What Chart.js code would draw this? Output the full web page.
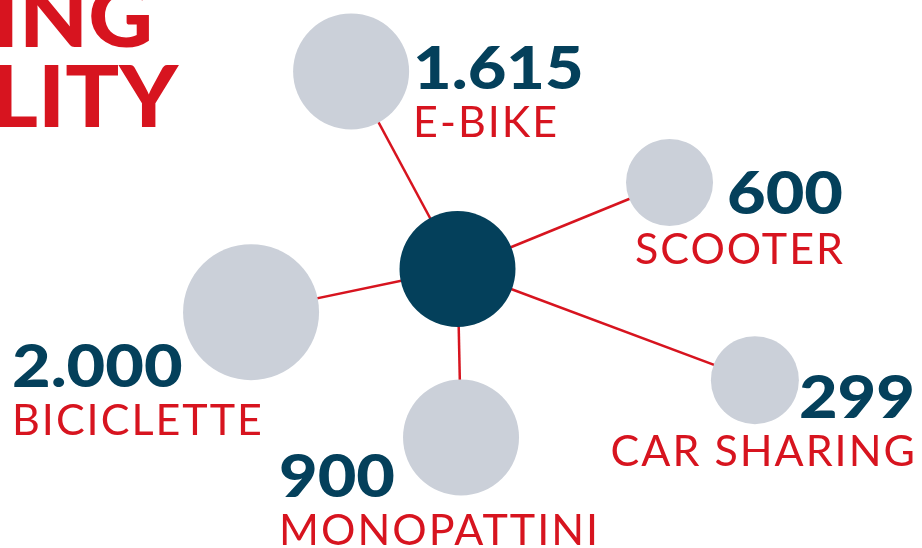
<!DOCTYPE html>
<html>
<head>
<meta charset="utf-8">
<script src="https://cdn.jsdelivr.net/npm/chart.js@4/dist/chart.umd.min.js"></script>
<style>
  html, body { margin: 0; padding: 0; background: #fff; }
  #wrap { width: 922px; height: 548px; }
</style>
</head>
<body>
<div id="wrap"><canvas id="hubChart" width="922" height="548"></canvas></div>
<script>
// data
const categories = ['E-BIKE', 'SCOOTER', 'CAR SHARING', 'MONOPATTINI', 'BICICLETTE'];
const values = [1615, 600, 299, 900, 2000];
const titleLines = ['SHARING', 'MOBILITY'];

// layout of the diagram (angle in degrees, distance from hub in px)
const nodeAngle = [118.3, 22.2, 339.5, 271.2, 191.8];
const nodeDist = [224.4, 229, 317.5, 168.5, 210.9];
const nodeRadius = [58, 43.5, 44, 58, 68];
const hubRadius = 58;
// label anchor relative to bubble centre: [dx, valueBaseline, nameBaseline, align]
const labelPos = [
  [62, 17.5, 65.5, 'left'],
  [173.5, 31.5, 81.5, 'right'],
  [160, 38, 86, 'right'],
  [-182, 59.5, 107.5, 'left'],
  [-239, 75, 123, 'left']
];

const RED = '#d7141f';
const NAVY = '#04405b';
const GREY = '#cbd0d9';

function fmt(v) {
  return String(v).replace(/\B(?=(\d{3})+(?!\d))/g, '.');
}

const points = categories.map((c, i) => {
  const a = nodeAngle[i] * Math.PI / 180;
  return { x: Math.cos(a) * nodeDist[i], y: Math.sin(a) * nodeDist[i], r: nodeRadius[i] };
});

const spokes = points.map(p => ({
  type: 'scatter',
  data: [{ x: 0, y: 0 }, { x: p.x, y: p.y }],
  showLine: true,
  borderColor: RED,
  borderWidth: 2.5,
  pointRadius: 0,
  order: 3
}));

// draws a text stretched horizontally, keeping the anchor
function drawWide(ctx, text, x, y, align, sx) {
  ctx.save();
  ctx.translate(x, y);
  ctx.scale(sx, 1);
  ctx.textAlign = align;
  ctx.fillText(text, 0, 0);
  ctx.restore();
}

const labelPlugin = {
  id: 'labels',
  afterDatasetsDraw(chart) {
    const ctx = chart.ctx;
    const meta = chart.getDatasetMeta(spokes.length);
    ctx.save();
    ctx.textBaseline = 'alphabetic';
    meta.data.forEach((el, i) => {
      const lp = labelPos[i];
      ctx.fillStyle = NAVY;
      ctx.font = '900 59px Lato';
      ctx.letterSpacing = '0px';
      drawWide(ctx, fmt(values[i]), el.x + lp[0], el.y + lp[1], lp[3], 1.13);
      ctx.fillStyle = RED;
      ctx.font = '400 43px Lato';
      ctx.letterSpacing = '2px';
      ctx.textAlign = lp[3];
      ctx.fillText(categories[i], el.x + lp[0] + (lp[3] === 'right' ? 2 : 0), el.y + lp[2]);
    });
    // title, partly outside the picture
    ctx.letterSpacing = '0px';
    ctx.fillStyle = RED;
    ctx.font = '900 86px Lato';
    drawWide(ctx, titleLines[0], 153, 47, 'right', 1.04);
    drawWide(ctx, titleLines[1], 178, 127, 'right', 1.04);
    ctx.restore();
  }
};

const ctx = document.getElementById('hubChart').getContext('2d');
const hubChart = new Chart(ctx, {
  type: 'bubble',
  data: {
    datasets: spokes.concat([
      {
        label: 'Sharing',
        data: points,
        backgroundColor: GREY,
        borderWidth: 0,
        order: 2
      },
      {
        label: 'Hub',
        data: [{ x: 0, y: 0, r: hubRadius }],
        backgroundColor: NAVY,
        borderWidth: 0,
        order: 1
      }
    ])
  },
  options: {
    responsive: false,
    animation: false,
    layout: { padding: 0, autoPadding: false },
    plugins: { legend: { display: false }, tooltip: { enabled: false } },
    scales: {
      x: { type: 'linear', min: -457.5, max: 464.5, display: false },
      y: { type: 'linear', min: -279, max: 269, display: false }
    }
  },
  plugins: [labelPlugin]
});
</script>
</body>
</html>
